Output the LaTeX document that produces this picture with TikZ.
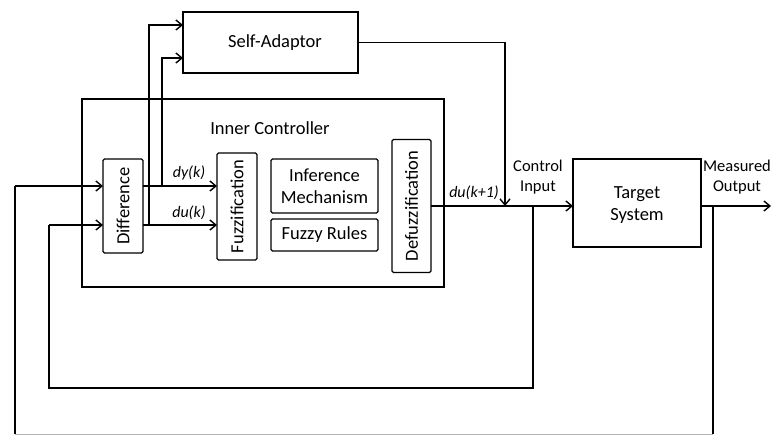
\documentclass[tikz,border=0pt]{standalone}
\usepackage{fontspec}
\setmainfont{Carlito}
\usetikzlibrary{arrows.meta}
\begin{document}
\begin{tikzpicture}[x=1pt,y=-1pt,
  bigbox/.style={draw,line width=2.2pt,inner sep=0pt,outer sep=0pt},
  smallbox/.style={draw,line width=1.2pt,rounded corners=1.5pt,inner sep=0pt,outer sep=0pt},
  txt/.style={font=\fontsize{18.5}{22}\selectfont,inner sep=0pt,align=center},
  smalltxt/.style={font=\fontsize{16.5}{20}\selectfont,inner sep=0pt,align=center},
  sig/.style={font=\fontsize{16}{19}\selectfont\itshape,inner sep=0pt},
  conn/.style={line width=1.5pt},
  arr/.style={conn,-{Straight Barb[length=6pt,width=10pt,line width=1.4pt]}}
]
\useasboundingbox (0,0) rectangle (771,434);
\fill[white] (0,0) rectangle (771,434);

% boxes
\node[bigbox,minimum width=175pt,minimum height=61pt] (sa) at (270.5,42.5) {};
\node[txt] (satxt) at (275,43) {Self-Adaptor};
\node[bigbox,minimum width=362pt,minimum height=188pt] (ic) at (263,193) {};
\node[txt] (ictxt) at (270,128) {Inner Controller};
\node[smallbox,minimum width=40pt,minimum height=94pt] (diff) at (123,206) {};
\node[txt,rotate=90] (difftxt) at (diff.center) {Difference};
\node[smallbox,minimum width=40pt,minimum height=107pt] (fuzz) at (237,206.5) {};
\node[txt,rotate=90] (fuzztxt) at (fuzz.center) {Fuzzification};
\node[smallbox,minimum width=107pt,minimum height=54pt] (inf) at (324.5,186) {};
\node[txt] (inftxt) at (inf.center) {Inference\\Mechanism};
\node[smallbox,minimum width=107pt,minimum height=32pt] (rules) at (324.5,235) {};
\node[txt] (rulestxt) at (rules.center) {Fuzzy Rules};
\node[smallbox,minimum width=39pt,minimum height=133pt] (defuz) at (411.5,206) {};
\node[txt,rotate=90] (defuztxt) at (defuz.center) {Defuzzification};
\node[bigbox,minimum width=128pt,minimum height=88pt] (ts) at (637,203) {};
\node[txt] (tstxt) at (637,205) {Target\\System};

% labels
\node[smalltxt] (ci) at (538,177) {Control\\Input};
\node[smalltxt] (mo) at (737,177) {Measured\\Output};
\node[sig] (dy) at (189,173) {dy(k)};
\node[sig] (du) at (189,213) {du(k)};
\node[sig] (du1) at (474,193) {du(k+1)};

% coordinates
\coordinate (j1) at (505,206);
\coordinate (b1) at (533,206);
\coordinate (b2) at (713,206);
\coordinate (outend) at (771,206);
\coordinate (l1) at (533,388);
\coordinate (l2) at (49,388);
\coordinate (l3) at (49,225);
\coordinate (m1) at (713,434);
\coordinate (m2) at (15,434);
\coordinate (m3) at (15,186);
\coordinate (d1) at (162,186);
\coordinate (d2) at (149,225);

% connectors
\draw[arr] (sa.east) -| (j1);
\draw[arr] (defuz.east) -- (ts.west |- defuz.east);
\draw[arr] (ts.east |- b2) -- (outend);
\draw[conn,line width=2pt] (b2) -- (m1);
\draw[gray!60,line width=0.8pt] (m1) -- (m2);
\draw[conn,line width=1.2pt] (m2) -- (m3);
\draw[arr] (m3) -- (diff.west |- m3);
\draw[conn,line width=1.2pt] (b1) -- (l1) -- (l2) -- (l3);
\draw[arr] (l3) -- (diff.west |- l3);
\draw[arr] (diff.east |- d1) -- (fuzz.west |- d1);
\draw[arr] (diff.east |- d2) -- (fuzz.west |- d2);
\draw[arr] (d1) |- ([yshift=-15.5pt]sa.west);
\draw[arr] (d2) |- ([yshift=17.5pt]sa.west);
\end{tikzpicture}
\end{document}
